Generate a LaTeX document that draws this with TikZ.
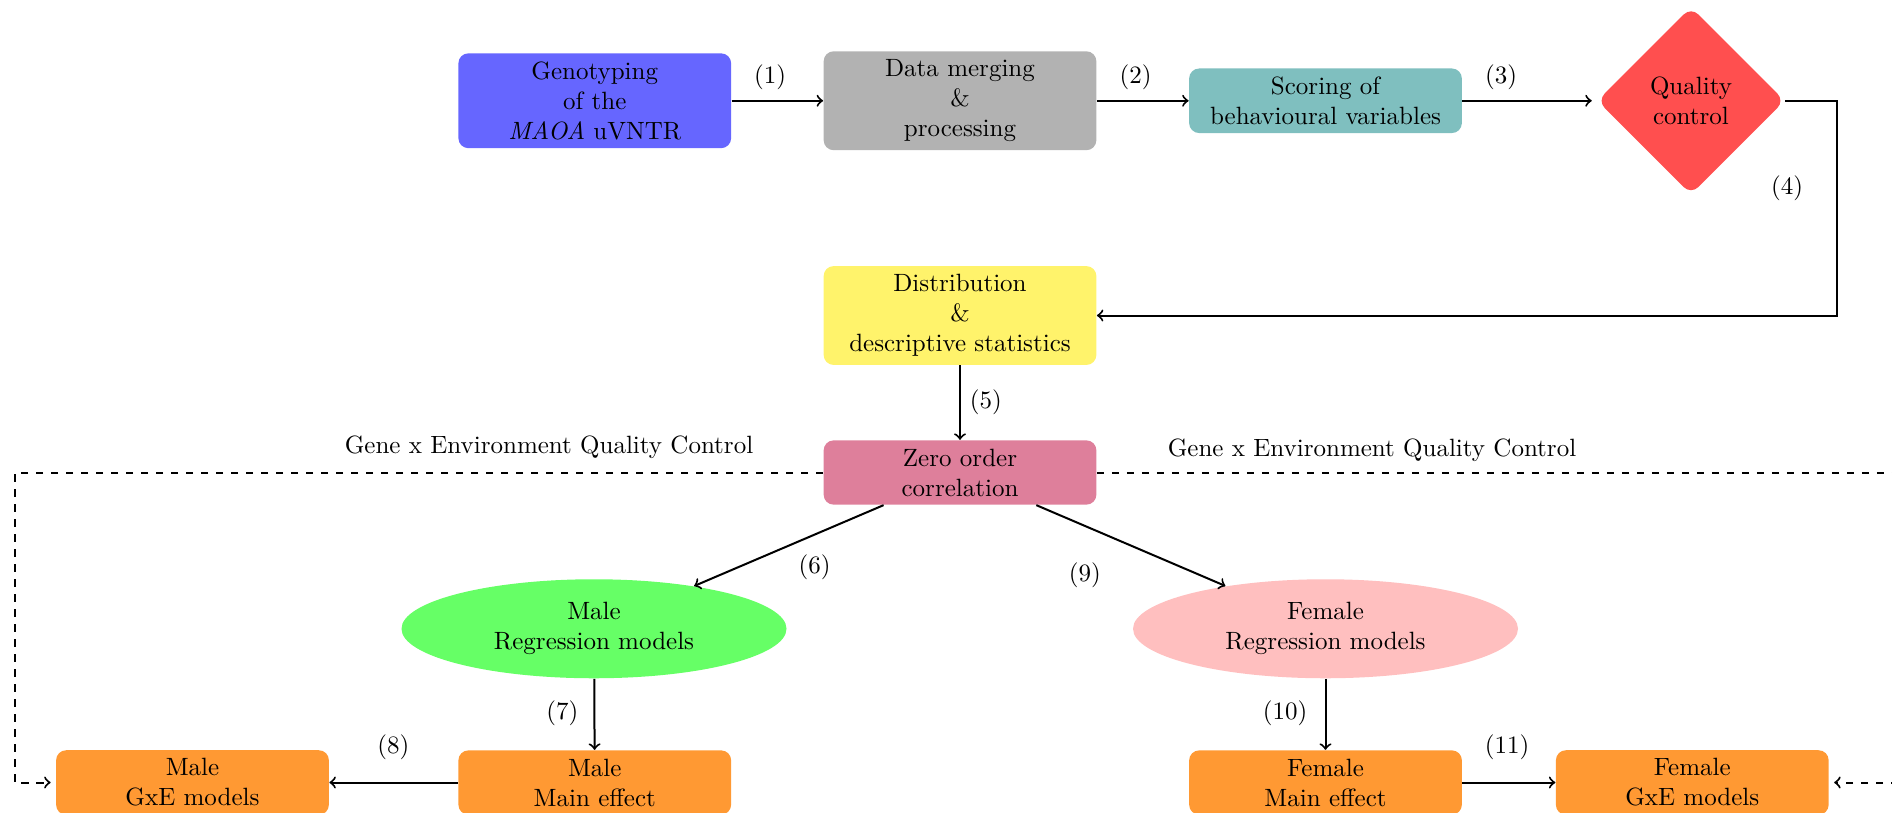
\documentclass[tikz,border=0pt]{standalone}
\usetikzlibrary{shapes.geometric}
\definecolor{cgeno}{RGB}{102,102,255}
\definecolor{cmerge}{RGB}{178,178,178}
\definecolor{cscore}{RGB}{127,191,191}
\definecolor{cqc}{RGB}{255,79,79}
\definecolor{cdist}{RGB}{255,243,107}
\definecolor{czero}{RGB}{222,127,155}
\definecolor{cmale}{RGB}{102,255,102}
\definecolor{cfem}{RGB}{255,191,191}
\definecolor{corange}{RGB}{255,153,51}
\begin{document}
\begin{tikzpicture}[
  x=1pt, y=-1pt,
  box/.style={rectangle, rounded corners=4pt, text width=3.6cm, align=center, inner sep=3.333pt},
  ell/.style={ellipse, minimum width=154pt, minimum height=39.6pt, inner sep=0pt, align=center},
  qcshape/.style={diamond, rounded corners=4pt, minimum width=75pt, minimum height=75pt, inner sep=0pt, align=center},
  arr/.style={->, thick},
  dasharr/.style={->, thick, dashed, shorten >=2pt},
  lbl/.style={inner sep=0pt}
]
\useasboundingbox (0,0) rectangle (756.8,324.8);

% top row
\node[box, fill=cgeno]  (geno)  at (237.9,40.3) {Genotyping\\of the\\\textit{MAOA} uVNTR};
\node[box, fill=cmerge] (merge) at (384.0,40.3) {Data merging\\\&\\processing};
\node[box, fill=cscore] (score) at (530.2,40.3) {Scoring of\\behavioural variables};
\node[qcshape, fill=cqc] (qc)   at (676.4,40.3) {Quality\\control};

% middle
\node[box, fill=cdist] (dist) at (384.0,126.2) {Distribution\\\&\\descriptive statistics};
\node[box, fill=czero] (zero) at (384.0,189.0) {Zero order\\correlation};

\node[ell, fill=cmale] (mreg) at (237.6,251.5) {Male\\Regression models};
\node[ell, fill=cfem]  (freg) at (530.2,251.5) {Female\\Regression models};

% bottom row
\node[box, fill=corange] (mgxe)  at (77.0,313.0)  {Male\\GxE models};
\node[box, fill=corange] (mmain) at (237.9,313.0) {Male\\Main effect};
\node[box, fill=corange] (fmain) at (530.2,313.0) {Female\\Main effect};
\node[box, fill=corange] (fgxe)  at (676.9,313.0) {Female\\GxE models};

% connectors
\draw[arr] (geno) -- (merge);
\draw[arr] (merge) -- (score);
\draw[arr, shorten >=2pt] (score) -- (qc);
\coordinate (c4) at (734.6,126.2);
\draw[arr] (qc.east) -| (c4) -- (dist.east);
\draw[arr] (dist) -- (zero);
\draw[arr] (zero) -- (mreg);
\draw[arr] (zero) -- (freg);
\draw[arr] (mreg) -- (mmain);
\draw[arr] (freg) -- (fmain);
\draw[arr] (mmain) -- (mgxe);
\draw[arr] (fmain) -- (fgxe);

\coordinate (dl) at (5.9,313.0);
\coordinate (dr) at (762.0,313.0);
\draw[dasharr] (zero.west) -| (dl) -- (mgxe.west);
\draw[dasharr] (zero.east) -| (dr) -- (fgxe.east);

% labels
\node[lbl] (l1)  at (308.0,30.9)  {(1)};
\node[lbl] (l2)  at (454.2,30.9)  {(2)};
\node[lbl] (l3)  at (600.4,30.9)  {(3)};
\node[lbl] (l4)  at (714.8,75.2)  {(4)};
\node[lbl] (l5)  at (394.3,160.7) {(5)};
\node[lbl] (l6)  at (325.8,226.8) {(6)};
\node[lbl] (l7)  at (224.9,285.2) {(7)};
\node[lbl] (l8)  at (157.3,298.8) {(8)};
\node[lbl] (l9)  at (433.9,230.2) {(9)};
\node[lbl] (l10) at (514.0,285.2) {(10)};
\node[lbl] (l11) at (602.8,298.8) {(11)};
\node[lbl] (gxel) at (219.6,179.0) {Gene x Environment Quality Control};
\node[lbl] (gxer) at (548.8,180.0) {Gene x Environment Quality Control};
\end{tikzpicture}
\end{document}
